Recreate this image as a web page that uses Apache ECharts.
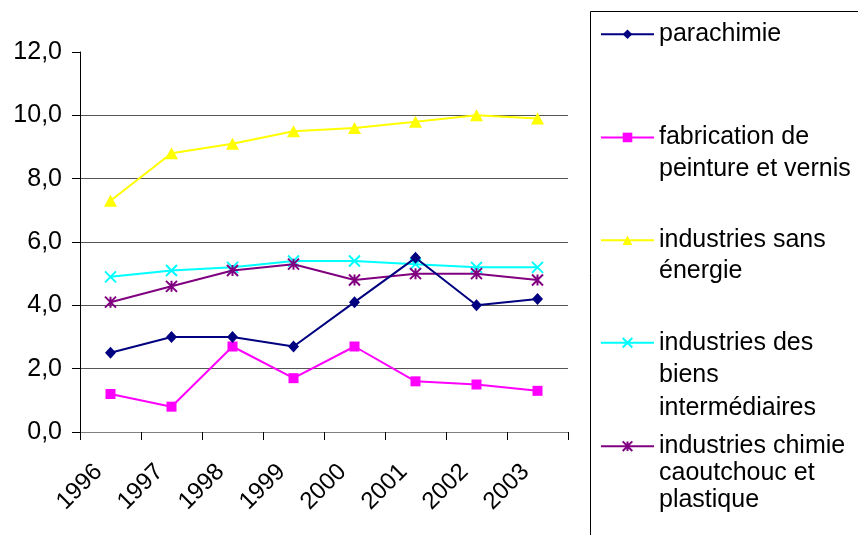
<!DOCTYPE html>
<html>
<head>
<meta charset="utf-8">
<script src="https://cdn.jsdelivr.net/npm/echarts@6/dist/echarts.min.js"></script>
<style>
html,body{margin:0;padding:0;background:#fff;}
#chart{width:858px;height:535px;}
</style>
</head>
<body>
<div id="chart"></div>
<script>
const categories = ['1996','1997','1998','1999','2000','2001','2002','2003'];
const parachimie = [2.5, 3.0, 3.0, 2.7, 4.1, 5.5, 4.0, 4.2];
const peinture = [1.2, 0.8, 2.7, 1.7, 2.7, 1.6, 1.5, 1.3];
const sansEnergie = [7.3, 8.8, 9.1, 9.5, 9.6, 9.8, 10.0, 9.9];
const biensInter = [4.9, 5.1, 5.2, 5.4, 5.4, 5.3, 5.2, 5.2];
const chimie = [4.1, 4.6, 5.1, 5.3, 4.8, 5.0, 5.0, 4.8];
const seriesNames = ['parachimie', 'fabrication de peinture et vernis', 'industries sans énergie', 'industries des biens intermédiaires', 'industries chimie caoutchouc et plastique'];
const legendLines = [
  ['parachimie'],
  ['fabrication de', 'peinture et vernis'],
  ['industries sans', 'énergie'],
  ['industries des', 'biens', 'intermédiaires'],
  ['industries chimie', 'caoutchouc et', 'plastique']
];
const yMin = 0, yMax = 12, yStep = 2;

const colors = ['#000080', '#FF00FF', '#FFFF00', '#00FFFF', '#800080'];
const symbols = ['diamond', 'rect', 'triangle', 'path://M0,0L10,10M10,0L0,10', 'path://M0,0L10,10M10,0L0,10M5,0L5,10'];
const symbolSizes = [[11, 12], 10, [13, 12], 11, 11];
const strokeSym = [false, false, false, true, true];
const dataSets = [parachimie, peinture, sansEnergie, biensInter, chimie];
const zs = [5, 2, 2, 2, 3];

const FONT = 'Liberation Sans, Arial, sans-serif';
const legendCenters = [30.8, 134.2, 237.3, 339, 445.2];
const legendLH = [32, 31.5, 31, 32.5, 27];
const FS = 25;

const series = dataSets.map((d, i) => ({
  name: seriesNames[i],
  type: 'line',
  data: d,
  symbol: symbols[i],
  symbolSize: symbolSizes[i],
  z: zs[i],
  lineStyle: { color: colors[i], width: 2 },
  itemStyle: strokeSym[i]
    ? { color: 'rgba(0,0,0,0)', borderColor: colors[i], borderWidth: 2 }
    : { color: colors[i], borderWidth: 0 },
  emphasis: { disabled: true },
  animation: false
}));

const legends = seriesNames.map((n, i) => {
  const lines = legendLines[i];
  const L = legendLH[i];
  const extra = lines.length - 1;
  return {
    orient: 'vertical',
    left: 600,
    top: legendCenters[i] - extra * L - FS / 2,
    padding: 0,
    itemWidth: 53,
    itemHeight: 12,
    selectedMode: false,
    textStyle: { fontSize: FS, fontFamily: FONT, color: '#000', lineHeight: L },
    formatter: () => '\n'.repeat(extra) + lines.join('\n'),
    data: [n]
  };
});

const chart = echarts.init(document.getElementById('chart'), null, { renderer: 'canvas' });
chart.setOption({
  backgroundColor: '#fff',
  animation: false,
  grid: { left: 80, top: 52, width: 488, height: 380 },
  legend: legends,
  xAxis: {
    type: 'category',
    data: categories,
    boundaryGap: true,
    axisLine: { lineStyle: { color: '#808080', width: 1 } },
    axisTick: { show: true, length: 8, interval: 0, lineStyle: { color: '#000' } },
    axisLabel: {
      rotate: 45, interval: 0, fontSize: 24, fontFamily: FONT, color: '#000',
      margin: 24, padding: [0, 17, 0, 0]
    },
    splitLine: { show: false }
  },
  yAxis: {
    type: 'value',
    min: yMin, max: yMax, interval: yStep,
    axisLine: { show: true, lineStyle: { color: '#000', width: 1 } },
    axisTick: { show: true, length: 8, lineStyle: { color: '#000' } },
    axisLabel: {
      fontSize: FS, fontFamily: FONT, color: '#000', margin: 18,
      formatter: v => v.toFixed(1).replace('.', ',')
    },
    splitLine: { show: true, showMinLine: false, showMaxLine: false, lineStyle: { color: '#555', width: 1 } }
  },
  graphic: [{
    type: 'rect',
    shape: { x: 590.5, y: 11.5, width: 400, height: 600 },
    style: { fill: 'none', stroke: '#000', lineWidth: 1 },
    silent: true
  }],
  series: series
});
</script>
</body>
</html>
